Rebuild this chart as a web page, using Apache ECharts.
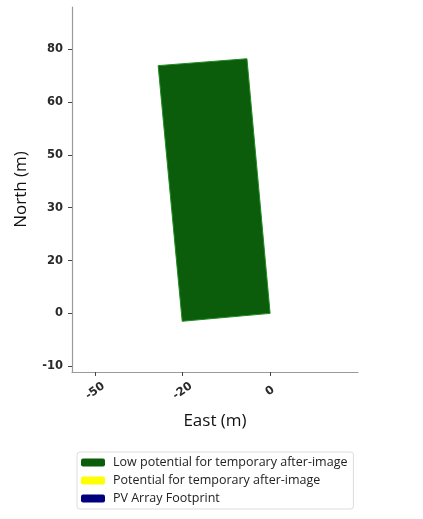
<!DOCTYPE html>
<html>
<head>
<meta charset="utf-8">
<script src="https://cdn.jsdelivr.net/npm/echarts@6/dist/echarts.min.js"></script>
<style>
  html, body { margin: 0; padding: 0; background: #ffffff; }
  #chart { width: 423px; height: 519px; }
</style>
</head>
<body>
<div id="chart"></div>
<script>
// Legend categories and their colours
const categories = [
  'Low potential for temporary after-image',
  'Potential for temporary after-image',
  'PV Array Footprint'
];
const categoryColors = ['#0b5d0b', '#ffff00', '#00007f'];

// Footprint outline of the low-potential zone (east, north), in axis units
const lowPotentialEast = [-25.6, -5.3, 0.0, -20.1];
const lowPotentialNorth = [46.9, 48.2, 0.0, -1.5];

// Tick positions along each axis and the text printed at them
const xTickValues = [-40, -20, 0];
const xTickLabels = ['-50', '-20', '0'];
const yTickValues = [-10, 0, 10, 20, 30, 40, 50];
const yTickLabels = ['-10', '0', '20', '30', '50', '60', '80'];

function lookup(values, labels) {
  return function (v) {
    const i = values.findIndex(t => Math.abs(t - v) < 1e-6);
    return i >= 0 ? labels[i] : '';
  };
}

const chart = echarts.init(document.getElementById('chart'), null, { renderer: 'canvas' });

const footprint = lowPotentialEast.map((e, i) => [e, lowPotentialNorth[i]]);

const axisLineColor = '#9a9a9a';
const tickFont = { fontFamily: 'DejaVu Sans', fontSize: 11.5, fontWeight: 'bold', color: '#2a2a2a' };

chart.setOption({
  animation: false,
  backgroundColor: '#ffffff',
  grid: { left: 72, right: 65, top: 7, bottom: 147, containLabel: false },
  xAxis: {
    type: 'value',
    min: -45.3,
    max: 20.1,
    name: 'East (m)',
    nameLocation: 'middle',
    nameGap: 41,
    nameTextStyle: { fontFamily: 'Open Sans', fontSize: 17, color: '#111' },
    splitLine: { show: false },
    axisLine: { show: true, onZero: false, lineStyle: { color: axisLineColor, width: 1.2 } },
    axisTick: { show: true, length: 4, customValues: xTickValues, lineStyle: { color: '#444' } },
    axisLabel: Object.assign({}, tickFont, {
      rotate: 35,
      margin: 19,
      align: 'center',
      verticalAlign: 'middle',
      customValues: xTickValues,
      formatter: lookup(xTickValues, xTickLabels)
    })
  },
  yAxis: {
    type: 'value',
    min: -11.1,
    max: 58,
    name: 'North (m)',
    nameLocation: 'middle',
    nameGap: 42,
    nameTextStyle: { fontFamily: 'Open Sans', fontSize: 17, color: '#111' },
    splitLine: { show: false },
    axisLine: { show: true, onZero: false, lineStyle: { color: axisLineColor, width: 1.2 } },
    axisTick: { show: true, length: 4, customValues: yTickValues, lineStyle: { color: '#444' } },
    axisLabel: Object.assign({}, tickFont, {
      margin: 9,
      customValues: yTickValues,
      formatter: lookup(yTickValues, yTickLabels)
    })
  },
  legend: {
    orient: 'vertical',
    left: 77,
    top: 452,
    width: 276,
    padding: [4, 6, 4, 4],
    itemGap: 5,
    itemWidth: 24,
    itemHeight: 8,
    borderColor: '#dddddd',
    borderWidth: 1,
    borderRadius: 3,
    textStyle: { fontFamily: 'Open Sans', fontSize: 12.5, color: '#222', padding: [0, 0, 0, 3] },
    data: categories.map((name, i) => ({
      name: name,
      icon: 'roundRect',
      itemStyle: { color: categoryColors[i] }
    }))
  },
  series: [
    {
      name: categories[0],
      type: 'custom',
      color: categoryColors[0],
      data: [0],
      renderItem: function (params, api) {
        const pts = footprint.map(p => api.coord(p));
        return {
          type: 'polygon',
          shape: { points: pts },
          style: { fill: categoryColors[0], stroke: '#1f8a1f', lineWidth: 1 }
        };
      }
    },
    {
      name: categories[1],
      type: 'custom',
      color: categoryColors[1],
      data: [],
      renderItem: function () { return null; }
    },
    {
      name: categories[2],
      type: 'custom',
      color: categoryColors[2],
      data: [],
      renderItem: function () { return null; }
    }
  ]
});
</script>
</body>
</html>
